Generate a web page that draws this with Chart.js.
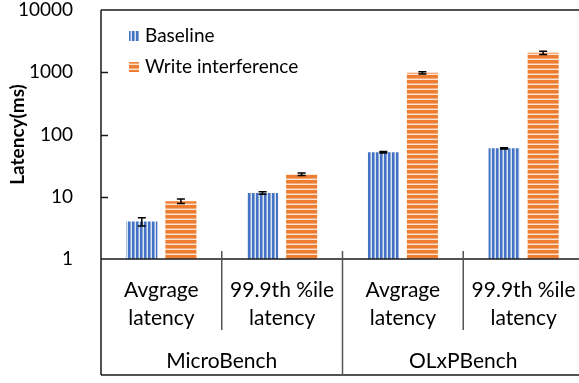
<!DOCTYPE html>
<html>
<head>
<meta charset="utf-8">
<script src="https://cdn.jsdelivr.net/npm/chart.js@4.4.1/dist/chart.umd.min.js"></script>
<style>
  html, body { margin: 0; padding: 0; background: #fff; overflow: hidden; }
  #wrap { width: 584px; height: 383px; }
</style>
</head>
<body>
<div id="wrap"><canvas id="chartCanvas" width="584" height="383"></canvas></div>
<script>
// latency data (ms)
const metrics = [["Avgrage", "latency"], ["99.9th %ile", "latency"], ["Avgrage", "latency"], ["99.9th %ile", "latency"]];
const benches = ["MicroBench", "OLxPBench"];
const baseline = [4.0, 11.5, 52, 60];
const baselineErr = [0.6, 0.5, 1.5, 1.5];
const writeInterf = [8.5, 23, 980, 2050];
const writeInterfErr = [0.7, 1.0, 40, 120];
const yTicks = [1, 10, 100, 1000, 10000];

const FONT = "Lato";

function makeStripes(w, h, paint) {
    const c = document.createElement("canvas");
    c.width = w; c.height = h;
    const g = c.getContext("2d");
    paint(g);
    return g.createPattern(c, "repeat");
}

// blue vertical stripes
const bluePattern = makeStripes(4, 1, g => {
    g.fillStyle = "#dbe4f4"; g.fillRect(0, 0, 4, 1);
    g.fillStyle = "#4472c4"; g.fillRect(0, 0, 2, 1);
    g.fillStyle = "#8eaadb"; g.fillRect(2, 0, 1, 1);
});
// orange horizontal stripes
const orangePattern = makeStripes(1, 5, g => {
    g.fillStyle = "#fde3d2"; g.fillRect(0, 0, 1, 5);
    g.fillStyle = "#ed7d31"; g.fillRect(0, 0, 1, 3);
    g.fillStyle = "#f4ab7c"; g.fillRect(0, 3, 1, 1);
});

const errorBars = {
    id: "errorBars",
    afterDatasetsDraw(chart) {
        const ctx = chart.ctx;
        const y = chart.scales.y;
        ctx.save();
        ctx.strokeStyle = "#000";
        ctx.lineWidth = 1.5;
        chart.data.datasets.forEach((ds, di) => {
            const meta = chart.getDatasetMeta(di);
            meta.data.forEach((bar, i) => {
                const v = ds.data[i], e = ds.errors[i];
                const yt = y.getPixelForValue(v + e);
                const yb = y.getPixelForValue(v - e);
                const x = bar.x;
                ctx.beginPath();
                ctx.moveTo(x, yt); ctx.lineTo(x, yb);
                ctx.moveTo(x - 4, yt); ctx.lineTo(x + 4, yt);
                ctx.moveTo(x - 4, yb); ctx.lineTo(x + 4, yb);
                ctx.stroke();
            });
        });
        ctx.restore();
    }
};

// frame, inner ticks, category table, group labels and legend
const frame = {
    id: "frame",
    afterDraw(chart) {
        const ctx = chart.ctx;
        const area = chart.chartArea;
        const xs = chart.scales.x, ys = chart.scales.y;
        const bottom = chart.height - 8;
        ctx.save();
        ctx.strokeStyle = "#1a1a1a";
        ctx.lineWidth = 1.5;
        ctx.beginPath();
        ctx.moveTo(area.left, area.top); ctx.lineTo(area.right, area.top);
        ctx.moveTo(area.left, area.top); ctx.lineTo(area.left, bottom);
        ctx.moveTo(area.left, area.bottom); ctx.lineTo(area.right, area.bottom);
        ctx.moveTo(area.left, bottom); ctx.lineTo(area.right, bottom);
        yTicks.slice(1, -1).forEach(v => {
            const py = Math.round(ys.getPixelForValue(v)) + 0.5;
            ctx.moveTo(area.left, py); ctx.lineTo(area.left + 7, py);
        });
        ctx.stroke();

        ctx.strokeStyle = "#555";
        ctx.beginPath();
        for (let i = 0; i < metrics.length - 1; i++) {
            const bx = (xs.getPixelForTick(i) + xs.getPixelForTick(i + 1)) / 2;
            const groupEdge = (i + 1) % 2 === 0;
            ctx.moveTo(bx, area.bottom - 8);
            ctx.lineTo(bx, groupEdge ? bottom : area.bottom + 71);
        }
        ctx.stroke();

        ctx.fillStyle = "#000";
        ctx.font = "21px " + FONT;
        ctx.textAlign = "center";
        ctx.textBaseline = "middle";
        benches.forEach((b, k) => {
            const cx = (xs.getPixelForTick(2 * k) + xs.getPixelForTick(2 * k + 1)) / 2;
            ctx.fillText(b, cx, 361);
        });

        // legend
        ctx.textAlign = "left";
        ctx.font = "19px " + FONT;
        chart.data.datasets.forEach((ds, di) => {
            const ly = area.top + 26 + di * 31;
            ctx.fillStyle = ds.backgroundColor;
            ctx.fillRect(area.left + 28, ly - 5, 10, 10);
            ctx.fillStyle = "#000";
            ctx.fillText(ds.label, area.left + 44, ly);
        });
        ctx.restore();
    }
};

new Chart(document.getElementById("chartCanvas").getContext("2d"), {
    type: "bar",
    data: {
        labels: metrics,
        datasets: [
            { label: "Baseline", data: baseline, errors: baselineErr, backgroundColor: bluePattern },
            { label: "Write interference", data: writeInterf, errors: writeInterfErr, backgroundColor: orangePattern }
        ]
    },
    options: {
        responsive: false,
        animation: false,
        events: [],
        layout: { padding: { top: 10, right: 0, left: 0, bottom: 0 } },
        datasets: { bar: { categoryPercentage: 0.647, barPercentage: 0.795 } },
        plugins: { legend: { display: false }, tooltip: { enabled: false } },
        scales: {
            x: {
                grid: { display: false },
                border: { display: false },
                ticks: { color: "#000", font: { family: FONT, size: 21, lineHeight: 1.3 }, padding: 10, maxRotation: 0 },
                afterFit(s) { s.height = 124; s.paddingLeft = 0; s.paddingRight = 0; }
            },
            y: {
                type: "logarithmic",
                min: 1,
                max: 10000,
                grid: { display: false },
                border: { display: false },
                afterBuildTicks(s) { s.ticks = yTicks.map(v => ({ value: v })); },
                ticks: { color: "#000", font: { family: FONT, size: 19 }, padding: 20, callback: v => String(v) },
                title: { display: true, text: "Latency(ms)", color: "#000", font: { family: FONT, size: 19, weight: "bold" }, padding: { top: 6, bottom: 0 } },
                afterFit(s) { s.width = 101; s.paddingTop = 0; s.paddingBottom = 0; }
            }
        }
    },
    plugins: [errorBars, frame]
});
</script>
</body>
</html>
